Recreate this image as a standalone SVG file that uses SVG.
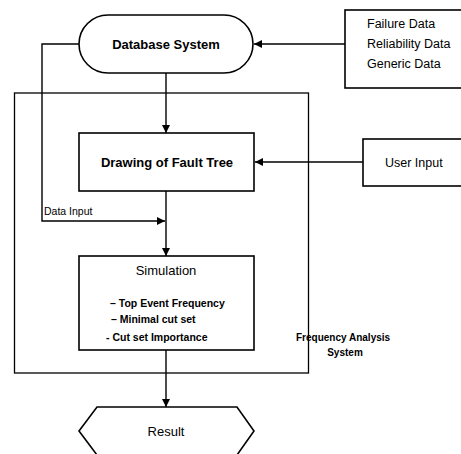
<svg xmlns="http://www.w3.org/2000/svg" width="461" height="454" viewBox="0 0 461 454">
  <style>
    .box { fill: #fff; stroke: #000; stroke-width: 1.6; }
    .frame { fill: none; stroke: #000; stroke-width: 1.3; }
    .line { fill: none; stroke: #000; stroke-width: 1.4; }
    text { font-family: "Liberation Sans", Arial, sans-serif; fill: #000; }
    .title { font-size: 13px; font-weight: bold; text-anchor: middle; }
    .plain { font-size: 12.5px; }
    .item { font-size: 10.5px; font-weight: bold; }
    .label { font-size: 10px; font-weight: bold; }
    .small { font-size: 10.5px; }
  </style>
  <defs>
    <marker id="arrow" viewBox="0 0 8 8" refX="8" refY="4" markerWidth="8" markerHeight="8" markerUnits="userSpaceOnUse" orient="auto">
      <path d="M0,0 L8,4 L0,8 Z" fill="#000"/>
    </marker>
  </defs>

  <!-- outer frame of the analysis system -->
  <g id="frequency-analysis-system">
    <rect class="frame" x="14.5" y="93" width="294" height="280"/>
    <text class="label" x="296" y="341">Frequency Analysis</text>
    <text class="label" x="345" y="356" text-anchor="middle">System</text>
  </g>

  <!-- connectors -->
  <g id="connectors">
    <line class="line" x1="345" y1="44" x2="254" y2="44" marker-end="url(#arrow)"/>
    <line class="line" x1="166" y1="73" x2="166" y2="133" marker-end="url(#arrow)"/>
    <line class="line" x1="363" y1="162" x2="255" y2="162" marker-end="url(#arrow)"/>
    <line class="line" x1="166" y1="191" x2="166" y2="256" marker-end="url(#arrow)"/>
    <polyline class="line" points="79,44 42,44 42,221 165,221" marker-end="url(#arrow)"/>
    <line class="line" x1="166" y1="350" x2="166" y2="407" marker-end="url(#arrow)"/>
  </g>

  <g id="database-system">
    <rect class="box" x="79" y="15" width="174" height="58" rx="29" ry="29"/>
    <text class="title" x="166" y="49">Database System</text>
  </g>

  <g id="data-sources">
    <rect class="box" x="345" y="10" width="120" height="78"/>
    <text class="plain" x="367" y="28">Failure Data</text>
    <text class="plain" x="367" y="48">Reliability Data</text>
    <text class="plain" x="367" y="68">Generic Data</text>
  </g>

  <g id="drawing-fault-tree">
    <rect class="box" x="79" y="133" width="175" height="58"/>
    <text class="title" x="167" y="167">Drawing of Fault Tree</text>
  </g>

  <g id="user-input">
    <rect class="box" x="363" y="139" width="102" height="47"/>
    <text class="plain" x="385" y="167">User Input</text>
  </g>

  <g id="data-input-label">
    <text class="small" x="44" y="215">Data Input</text>
  </g>

  <g id="simulation">
    <rect class="box" x="79" y="256" width="175" height="94"/>
    <text x="166" y="275" font-size="13" text-anchor="middle">Simulation</text>
    <text class="item" x="110" y="307">– Top Event Frequency</text>
    <text class="item" x="111" y="323">– Minimal cut set</text>
    <text class="item" x="106" y="341">- Cut set Importance</text>
  </g>

  <g id="result">
    <polygon class="box" points="97,407 237,407 254,431 237,455 97,455 79,431"/>
    <text x="166" y="436" font-size="13" text-anchor="middle">Result</text>
  </g>
</svg>
